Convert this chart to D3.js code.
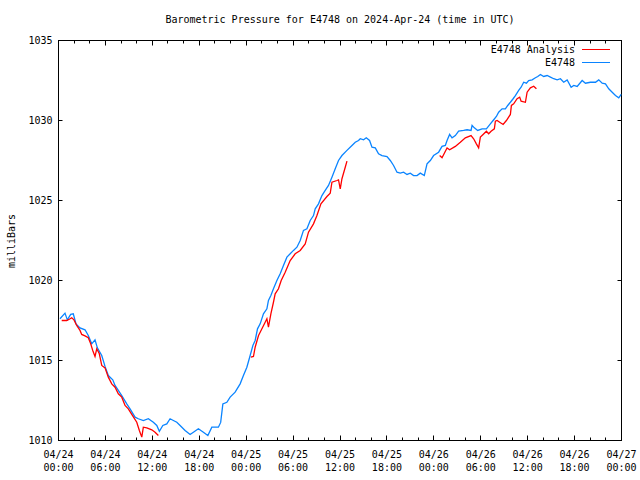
<!DOCTYPE html>
<html><head><meta charset="utf-8">
<script src="https://cdn.jsdelivr.net/npm/d3@7"></script>
<style>
body{margin:0;background:#fff;}
text{font-family:"DejaVu Sans Mono","Liberation Mono",monospace;font-size:10px;fill:#000;}
</style></head><body>
<svg id="c" width="640" height="480"></svg>
<script>
// hours since 2024-04-24 00:00 UTC
const stationTimes = [0.19,0.83,1.13,1.56,1.89,2.24,2.75,3.39,3.81,4.25,4.67,4.97,5.53,5.95,6.37,6.94,7.23,7.65,8.09,8.73,9.15,9.79,10.21,10.85,11.49,12.13,12.57,12.90,13.34,13.85,14.27,14.69,15.13,15.55,16.19,16.83,17.25,17.89,18.53,19.10,19.61,20.45,20.74,21.02,21.53,21.95,22.59,23.23,23.65,24.09,24.51,24.86,25.15,25.45,25.79,26.21,26.65,26.85,27.16,27.49,27.93,28.35,28.77,29.21,29.63,30.05,30.49,30.91,31.33,31.77,32.19,32.61,32.83,33.25,33.69,34.11,34.53,34.97,35.39,35.81,36.25,36.89,37.53,37.95,38.37,38.59,39.01,39.36,39.78,40.09,40.51,40.93,41.37,42.01,42.43,42.85,43.29,43.71,44.13,44.57,44.99,45.41,45.85,46.27,46.78,47.13,47.55,47.97,48.61,49.05,49.47,49.69,50.02,50.33,50.75,51.17,51.81,52.25,52.76,52.89,53.18,53.61,54.17,54.72,55.23,55.58,56.00,56.29,56.73,57.15,57.45,57.79,58.14,58.43,58.85,59.16,59.49,59.84,60.13,60.57,60.99,61.29,61.63,62.05,62.49,62.91,63.33,63.77,64.19,64.61,65.05,65.56,65.89,66.33,66.97,67.39,68.03,68.67,69.09,69.53,69.95,70.37,70.81,71.23,71.65,71.96];
const stationValues = [1017.61,1017.96,1017.54,1017.88,1017.92,1017.29,1017.04,1016.92,1016.56,1016.04,1016.29,1015.79,1015.31,1014.63,1014.06,1013.79,1013.44,1013.13,1012.81,1012.29,1011.98,1011.46,1011.36,1011.25,1011.36,1011.14,1010.94,1010.58,1010.94,1011.04,1011.36,1011.25,1011.14,1010.94,1010.63,1010.38,1010.52,1010.73,1010.52,1010.31,1010.83,1010.83,1011.13,1012.29,1012.39,1012.71,1013.02,1013.54,1014.06,1014.58,1015.31,1015.94,1016.25,1016.98,1017.29,1017.92,1018.23,1018.75,1019.06,1019.48,1020.00,1020.42,1020.94,1021.46,1021.67,1021.88,1022.08,1022.50,1023.13,1023.23,1023.75,1024.06,1024.48,1024.79,1025.31,1025.63,1025.94,1026.46,1026.98,1027.50,1027.81,1028.13,1028.44,1028.64,1028.75,1028.86,1028.79,1028.92,1028.75,1028.33,1028.29,1027.92,1027.81,1027.75,1027.50,1027.19,1026.77,1026.71,1026.77,1026.63,1026.71,1026.56,1026.56,1026.71,1026.56,1027.29,1027.50,1027.81,1028.02,1028.38,1028.44,1028.75,1029.13,1028.92,1029.06,1029.33,1029.38,1029.42,1029.38,1029.69,1029.54,1029.38,1029.48,1029.48,1029.79,1030.00,1030.25,1030.52,1030.73,1030.73,1030.94,1031.14,1031.36,1031.56,1031.88,1032.08,1032.39,1032.33,1032.50,1032.54,1032.67,1032.75,1032.88,1032.75,1032.81,1032.71,1032.61,1032.54,1032.61,1032.39,1032.54,1032.08,1032.19,1032.13,1032.50,1032.33,1032.39,1032.39,1032.54,1032.33,1032.29,1031.98,1031.77,1031.56,1031.42,1031.63];

// analysis series; null marks a gap
const analysisTimes = [0.41,1.05,1.38,1.69,1.98,2.33,2.75,2.97,3.39,3.81,4.12,4.38,4.67,4.89,5.22,5.53,5.95,6.37,6.81,7.23,7.65,8.09,8.51,8.93,9.37,10.01,10.34,10.65,10.85,11.29,11.93,12.35,12.77,
  18.0,
  24.60,24.93,25.15,25.58,25.79,26.43,26.65,26.85,27.16,27.49,27.71,28.13,28.48,28.99,29.63,30.27,30.91,31.55,31.97,32.61,33.05,33.56,34.33,34.75,34.97,35.61,35.81,36.03,36.25,36.67,36.89,
  42.0,
  48.74,49.05,49.69,50.02,50.75,51.39,52.03,52.76,53.09,53.44,53.73,53.95,54.30,54.72,55.01,55.32,55.74,55.87,56.09,56.42,56.86,57.28,57.79,57.92,58.21,58.65,58.98,59.16,59.71,59.93,60.35,60.77,61.12];
const analysisValues = [1017.50,1017.50,1017.58,1017.67,1017.54,1017.19,1016.88,1016.63,1016.54,1016.42,1016.04,1015.63,1015.25,1015.73,1015.42,1014.69,1014.54,1013.96,1013.54,1013.33,1012.92,1012.71,1012.19,1011.98,1011.63,1011.14,1010.63,1010.21,1010.83,1010.79,1010.67,1010.52,1010.31,
  null,
  1015.21,1015.25,1015.83,1016.56,1016.77,1017.39,1017.61,1017.08,1017.92,1018.64,1019.17,1019.48,1020.00,1020.52,1021.25,1021.67,1021.88,1022.29,1023.02,1023.54,1024.06,1024.79,1025.25,1025.46,1026.14,1026.25,1026.29,1025.73,1026.36,1027.08,1027.46,
  null,
  1027.81,1027.67,1028.29,1028.17,1028.38,1028.64,1028.92,1029.06,1028.86,1028.54,1028.29,1028.96,1029.13,1029.33,1029.17,1029.33,1029.48,1029.96,1030.00,1029.89,1029.75,1030.00,1030.38,1030.94,1031.04,1031.36,1031.46,1031.21,1031.14,1031.77,1032.04,1032.14,1031.98];

const yTicks = [1010,1015,1020,1025,1030,1035];
const xMajorTicks = [0,6,12,18,24,30,36,42,48,54,60,66,72];
const xTickDates = ["04/24","04/24","04/24","04/24","04/25","04/25","04/25","04/25","04/26","04/26","04/26","04/26","04/27"];
const xTickTimes = ["00:00","06:00","12:00","18:00","00:00","06:00","12:00","18:00","00:00","06:00","12:00","18:00","00:00"];
const seriesNames = ["E4748 Analysis","E4748"];
const seriesColors = ["#ff0000","#0a84ff"];
const titleText = "Barometric Pressure for E4748 on 2024-Apr-24 (time in UTC)";
const yLabel = "milliBars";

const svg = d3.select("#c");
const L=58.5, R=621.5, T=40.5, B=440.5;
const x = d3.scaleLinear().domain([0,72]).range([L,R]);
const y = d3.scaleLinear().domain([1010,1035]).range([B,T]);

const minorTicks = d3.range(0,73,2);

// frame
svg.append("rect").attr("x",L).attr("y",T).attr("width",R-L).attr("height",B-T)
  .attr("fill","none").attr("stroke","#000").attr("stroke-width",1);

// x ticks (bottom and top)
const tg = svg.append("g").attr("stroke","#000").attr("stroke-width",1);
minorTicks.forEach(h=>{
  const len = (h%6===0)?5:3;
  const px = Math.round(x(h)-0.5)+0.5;
  tg.append("line").attr("x1",px).attr("x2",px).attr("y1",B).attr("y2",B-len);
  tg.append("line").attr("x1",px).attr("x2",px).attr("y1",T).attr("y2",T+len);
});
yTicks.forEach(v=>{
  const py = Math.round(y(v)-0.5)+0.5;
  tg.append("line").attr("x1",L).attr("x2",L+4).attr("y1",py).attr("y2",py);
  tg.append("line").attr("x1",R).attr("x2",R-4).attr("y1",py).attr("y2",py);
});

// y labels
svg.append("g").selectAll("text").data(yTicks).join("text")
  .attr("x",L-6).attr("y",d=>y(d)).attr("dy","0.35em").attr("text-anchor","end").text(d=>d);

// x labels
const xl = svg.append("g").selectAll("g").data(xMajorTicks).join("g");
xl.append("text").attr("x",d=>x(d)).attr("y",458).attr("text-anchor","middle").text((d,i)=>xTickDates[i]);
xl.append("text").attr("x",d=>x(d)).attr("y",471).attr("text-anchor","middle").text((d,i)=>xTickTimes[i]);

// title
svg.append("text").attr("x",340).attr("y",23).attr("text-anchor","middle").text(titleText);
// y axis label
svg.append("text").attr("transform","translate(15,241) rotate(-90)").attr("text-anchor","middle").text(yLabel);

// lines
const line = d3.line().defined(d=>d[1]!==null).x(d=>x(d[0])).y(d=>y(d[1]));
const stationData = stationTimes.map((t,i)=>[t,stationValues[i]]);
const analysisData = analysisTimes.map((t,i)=>[t,analysisValues[i]]);
svg.append("path").datum(stationData).attr("d",line).attr("fill","none")
  .attr("stroke",seriesColors[1]).attr("stroke-width",1.3);
svg.append("path").datum(analysisData).attr("d",line).attr("fill","none")
  .attr("stroke",seriesColors[0]).attr("stroke-width",1.3);

// legend
const lg = svg.append("g");
seriesNames.forEach((n,i)=>{
  const ly = 49.5 + i*13;
  lg.append("text").attr("x",575).attr("y",ly).attr("dy","0.35em").attr("text-anchor","end").text(n);
  lg.append("line").attr("x1",582).attr("x2",610).attr("y1",ly).attr("y2",ly)
    .attr("stroke",seriesColors[i]).attr("stroke-width",1);
});
</script>
</body></html>
